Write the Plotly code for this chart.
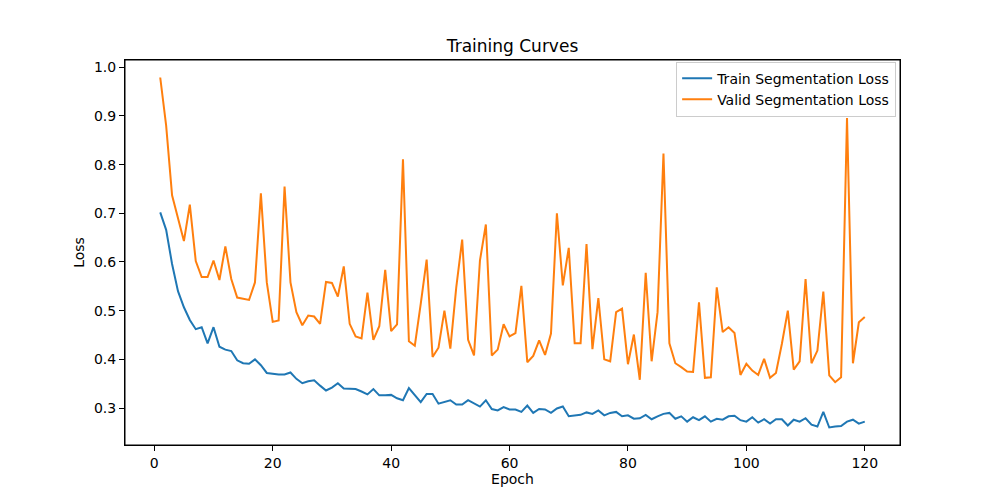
import plotly.graph_objs as go

epochs = list(range(1, 121))

train_loss = [
  0.702, 0.666, 0.596, 0.540, 0.507, 0.481, 0.462, 0.466, 0.433, 0.466,
  0.426, 0.420, 0.417, 0.398, 0.392, 0.391, 0.400, 0.388, 0.372, 0.370,
  0.369, 0.369, 0.373, 0.360, 0.351, 0.355, 0.357, 0.346, 0.336, 0.342,
  0.351, 0.340, 0.339, 0.339, 0.334, 0.328, 0.339, 0.326, 0.326, 0.327,
  0.320, 0.316, 0.341, 0.327, 0.312, 0.329, 0.329, 0.309, 0.313, 0.316,
  0.307, 0.307, 0.316, 0.309, 0.303, 0.316, 0.298, 0.295, 0.302, 0.297,
  0.297, 0.292, 0.305, 0.290, 0.298, 0.297, 0.290, 0.299, 0.303, 0.283,
  0.285, 0.286, 0.291, 0.288, 0.295, 0.285, 0.290, 0.292, 0.283, 0.285,
  0.278, 0.279, 0.286, 0.277, 0.283, 0.288, 0.290, 0.278, 0.283, 0.272,
  0.281, 0.275, 0.283, 0.272, 0.278, 0.276, 0.283, 0.284, 0.275, 0.272,
  0.281, 0.270, 0.277, 0.268, 0.277, 0.277, 0.264, 0.276, 0.272, 0.279,
  0.266, 0.262, 0.292, 0.260, 0.262, 0.263, 0.272, 0.276, 0.268, 0.272,
]

valid_loss = [
  0.979, 0.880, 0.737, 0.689, 0.643, 0.718, 0.602, 0.569, 0.569, 0.603,
  0.563, 0.632, 0.565, 0.527, 0.524, 0.522, 0.558, 0.741, 0.558, 0.477,
  0.480, 0.755, 0.558, 0.497, 0.470, 0.490, 0.488, 0.473, 0.559, 0.557,
  0.529, 0.591, 0.473, 0.447, 0.443, 0.537, 0.440, 0.468, 0.584, 0.458,
  0.472, 0.811, 0.437, 0.428, 0.514, 0.605, 0.405, 0.424, 0.500, 0.422,
  0.548, 0.646, 0.440, 0.408, 0.603, 0.677, 0.408, 0.420, 0.472, 0.447,
  0.454, 0.551, 0.394, 0.407, 0.439, 0.409, 0.453, 0.700, 0.552, 0.629,
  0.433, 0.433, 0.637, 0.421, 0.526, 0.400, 0.396, 0.497, 0.504, 0.390,
  0.451, 0.358, 0.578, 0.396, 0.497, 0.823, 0.433, 0.392, 0.384, 0.375,
  0.374, 0.517, 0.362, 0.363, 0.548, 0.456, 0.466, 0.454, 0.368, 0.391,
  0.377, 0.368, 0.401, 0.362, 0.372, 0.432, 0.500, 0.379, 0.396, 0.565,
  0.392, 0.418, 0.539, 0.367, 0.353, 0.363, 0.896, 0.392, 0.476, 0.487,
]

x_ticks = [0, 20, 40, 60, 80, 100, 120]
y_ticks = [0.3, 0.4, 0.5, 0.6, 0.7, 0.8, 0.9, 1.0]

font = "DejaVu Sans"

trainTrace = go.Scatter(
  x=epochs, y=train_loss, mode="lines",
  name="Train Segmentation Loss",
  line=dict(color="#1f77b4", width=2)
)

validTrace = go.Scatter(
  x=epochs, y=valid_loss, mode="lines",
  name="Valid Segmentation Loss",
  line=dict(color="#ff7f0e", width=2)
)

# matplotlib-like auto margins (5% of the data span)
ymin = min(train_loss + valid_loss)
ymax = max(train_loss + valid_loss)
ypad = (ymax - ymin) * 0.05
xpad = (epochs[-1] - epochs[0]) * 0.05

axis_style = dict(
  showline=True, linecolor="black", linewidth=1, mirror=True,
  ticks="outside", ticklen=5, tickwidth=1, tickcolor="black",
  showgrid=False, zeroline=False, automargin=False,
  tickfont=dict(family=font, size=14, color="black"),
)

# the page body has an 8px margin, so the figure is 16px smaller
layout = go.Layout(
  width=984, height=484,
  margin=dict(l=117, r=92, t=52, b=47),
  paper_bgcolor="white", plot_bgcolor="white",
  font=dict(family=font, size=14, color="black"),
  title=dict(text="Training Curves", x=0.5, xref="paper",
             y=0.921, yref="container", yanchor="middle",
             font=dict(family=font, size=17, color="black")),
  xaxis=dict(axis_style, range=[epochs[0] - xpad, epochs[-1] + xpad],
             tickvals=x_ticks,
             title=dict(text="Epoch", standoff=4,
                        font=dict(family=font, size=14))),
  yaxis=dict(axis_style, range=[ymin - ypad, ymax + ypad],
             tickvals=y_ticks, tickformat=".1f",
             title=dict(text="Loss", standoff=6,
                        font=dict(family=font, size=14))),
  legend=dict(x=0.995, y=0.996, xanchor="right", yanchor="top",
              bgcolor="rgba(255,255,255,0.8)", bordercolor="#cccccc",
              borderwidth=1, font=dict(family=font, size=14)),
  showlegend=True,
  shapes=[dict(type="rect", xref="paper", yref="paper",
               x0=0, x1=1, y0=0, y1=1,
               line=dict(color="black", width=1), layer="above")],
)

fig = go.Figure(data=[trainTrace, validTrace], layout=layout)
fig.write_html("out.html")
